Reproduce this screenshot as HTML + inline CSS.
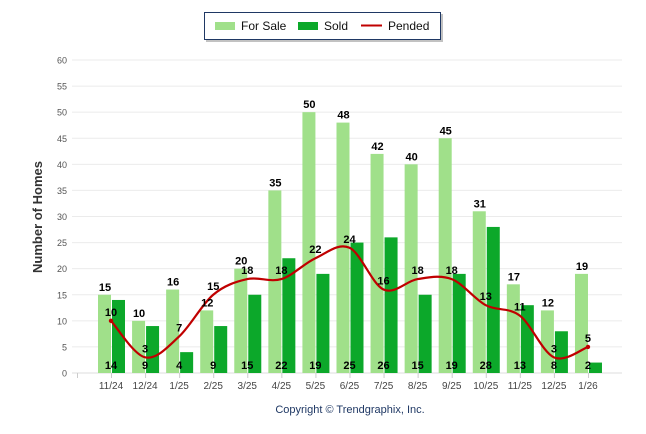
<!DOCTYPE html>
<html><head><meta charset="utf-8"><style>
body{margin:0;background:#fff;font-family:"Liberation Sans",Arial,sans-serif}
svg{display:block}
</style></head><body>
<svg id="chart" width="646" height="434" xmlns="http://www.w3.org/2000/svg">
<g>
<rect x="206" y="14" width="237" height="28" fill="#999" opacity="0.6"/>
<rect x="204.5" y="12.5" width="236" height="27" fill="#fff" stroke="#1f3864" stroke-width="1"/>
<rect x="215" y="22" width="20" height="8" fill="#a0e08a"/>
<text x="241" y="30" font-size="12" fill="#111">For Sale</text>
<rect x="298" y="22" width="20" height="8" fill="#0ca82a"/>
<text x="324" y="30" font-size="12" fill="#111">Sold</text>
<line x1="361" y1="25.5" x2="382" y2="25.5" stroke="#c00000" stroke-width="2"/>
<text x="388" y="30" font-size="12" fill="#111">Pended</text>
</g>
<text transform="translate(42,217) rotate(-90)" text-anchor="middle" font-size="13" font-weight="bold" fill="#333">Number of Homes</text>
<text x="350" y="413" text-anchor="middle" font-size="11" fill="#1f3864">Copyright © Trendgraphix, Inc.</text>
<g id="grid"></g><g id="bars"></g><g id="line"></g><g id="labels"></g>
</svg>
<script>
const categories=["11/24","12/24","1/25","2/25","3/25","4/25","5/25","6/25","7/25","8/25","9/25","10/25","11/25","12/25","1/26"];
const forSale=[15,10,16,12,20,35,50,48,42,40,45,31,17,12,19];
const sold=[14,9,4,9,15,22,19,25,26,15,19,28,13,8,2];
const pended=[10,3,7,15,18,18,22,24,16,18,18,13,11,3,5];
const yTicks=[0,5,10,15,20,25,30,35,40,45,50,55,60];
const NS="http://www.w3.org/2000/svg";
const y=v=>373-v*(313/60);
const x=i=>111+i*34.07;
function mk(tag,attrs,parent,txt){const e=document.createElementNS(NS,tag);for(const k in attrs)e.setAttribute(k,attrs[k]);if(txt!==undefined)e.textContent=txt;document.getElementById(parent).appendChild(e);return e;}
yTicks.forEach(t=>{
  const g=mk('line',{x1:72,x2:622,y1:y(t),y2:y(t),stroke:t===0?'#ddd':'#ebebeb','stroke-width':1},'grid');
  
  
  const l=mk('text',{x:67,y:y(t)+3.5,'text-anchor':'end','font-size':9,fill:'#555'},'grid',t);
  
  
});
mk('line',{x1:77.5,x2:77.5,y1:373,y2:378,stroke:'#ccc'},'grid');
categories.forEach((c,i)=>{
  const t=mk('text',{x:x(i),y:389,'text-anchor':'middle','font-size':10,fill:'#444'},'grid',c);
  
  
  mk('line',{x1:x(i)+0.5,x2:x(i)+0.5,y1:373,y2:378,stroke:'#ccc'},'grid');
  const b1=mk('rect',{x:x(i)-13,y:y(forSale[i]),width:13,height:373-y(forSale[i]),fill:'#a0e08a'},'bars');
  
  
  const b2=mk('rect',{x:x(i)+1,y:y(sold[i]),width:13,height:373-y(sold[i]),fill:'#0ca82a'},'bars');
  
  
  const l1=mk('text',{x:x(i)-6,y:y(forSale[i])-4,'text-anchor':'middle','font-size':11,'font-weight':'bold',fill:'#000'},'labels',forSale[i]);
  
  
  const l2=mk('text',{x:x(i),y:369,'text-anchor':'middle','font-size':11,'font-weight':'bold',fill:'#000'},'labels',sold[i]);
  
  
  const l3=mk('text',{x:x(i),y:y(pended[i])-5,'text-anchor':'middle','font-size':11,'font-weight':'bold',fill:'#000'},'labels',pended[i]);
  
  
});
const pts=pended.map((v,i)=>[x(i),y(v)]);
let d='M'+pts[0][0]+','+pts[0][1];
for(let i=0;i<pts.length-1;i++){
  const p0=pts[Math.max(0,i-1)],p1=pts[i],p2=pts[i+1],p3=pts[Math.min(pts.length-1,i+2)];
  const k=1/6;
  d+=' C'+(p1[0]+(p2[0]-p0[0])*k)+','+(p1[1]+(p2[1]-p0[1])*k)+' '+(p2[0]-(p3[0]-p1[0])*k)+','+(p2[1]-(p3[1]-p1[1])*k)+' '+p2[0]+','+p2[1];
}
const path=mk('path',{d:d,fill:'none',stroke:'#c00000','stroke-width':2.2},'line');


[0,pts.length-1].forEach(i=>{mk('circle',{cx:pts[i][0],cy:pts[i][1],r:2.2,fill:'#c00000'},'line');});
</script>
</body></html>
